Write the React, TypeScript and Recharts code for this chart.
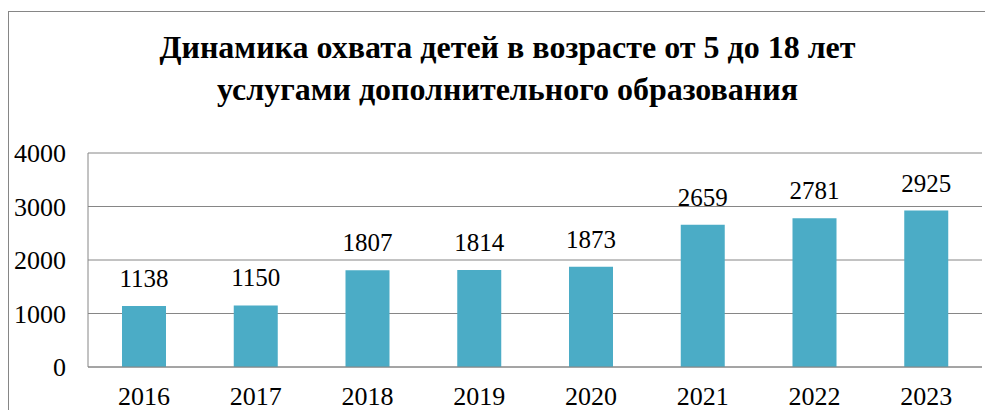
import { BarChart, Bar, XAxis, YAxis, CartesianGrid, LabelList } from 'recharts'

const years = ['2016', '2017', '2018', '2019', '2020', '2021', '2022', '2023']
const children = [1138, 1150, 1807, 1814, 1873, 2659, 2781, 2925]
const yTicks = [0, 1000, 2000, 3000, 4000]
const titleLines = [
  'Динамика охвата детей в возрасте от 5 до 18 лет',
  'услугами дополнительного образования',
]

const data = years.map((year, i) => ({ year, value: children[i] }))

const SERIF = 'Liberation Serif'
const GRID = '#868686'

export default function App() {
  return (
    <div style={{ position: 'relative', width: 993, height: 418, margin: -8, overflow: 'hidden', background: '#fff' }}>
      {/* рамка области диаграммы */}
      <div
        style={{
          position:   'absolute',
          left:       8,
          top:        11,
          width:      1000,
          height:     500,
          borderTop:  `1px solid ${GRID}`,
          borderLeft: `1px solid ${GRID}`,
        }}
      />

      <div
        style={{
          position:   'absolute',
          left:       14,
          top:        26,
          width:      987,
          textAlign:  'center',
          fontFamily: SERIF,
          fontWeight: 700,
          fontSize:   32,
          lineHeight: '42px',
          color:      '#000',
        }}
      >
        {titleLines.map((t) => (
          <div key={t}>{t}</div>
        ))}
      </div>

      <div style={{ position: 'absolute', left: 0, top: 0 }}>
        <BarChart
          width={993}
          height={418}
          data={data}
          margin={{ top: 153, right: 11, left: 8, bottom: 11 }}
          barCategoryGap="30%"
        >
          <CartesianGrid vertical={false} stroke={GRID} strokeWidth={1} />
          <YAxis
            width={80}
            domain={[0, 4000]}
            ticks={yTicks}
            tickSize={0}
            tickMargin={22}
            axisLine={{ stroke: GRID }}
            tickLine={false}
            tick={{ fontSize: 26, fill: '#000', fontFamily: SERIF }}
          />
          <XAxis
            dataKey="year"
            height={40}
            tickSize={0}
            tickMargin={20}
            axisLine={{ stroke: GRID }}
            tickLine={false}
            tick={{ fontSize: 26, fill: '#000', fontFamily: SERIF }}
          />
          <Bar dataKey="value" fill="#4BACC6" barSize={44} isAnimationActive={false}>
            <LabelList
              dataKey="value"
              position="top"
              offset={19}
              style={{ fontSize: 25, fill: '#000', fontFamily: SERIF }}
            />
          </Bar>
        </BarChart>
      </div>
    </div>
  )
}
